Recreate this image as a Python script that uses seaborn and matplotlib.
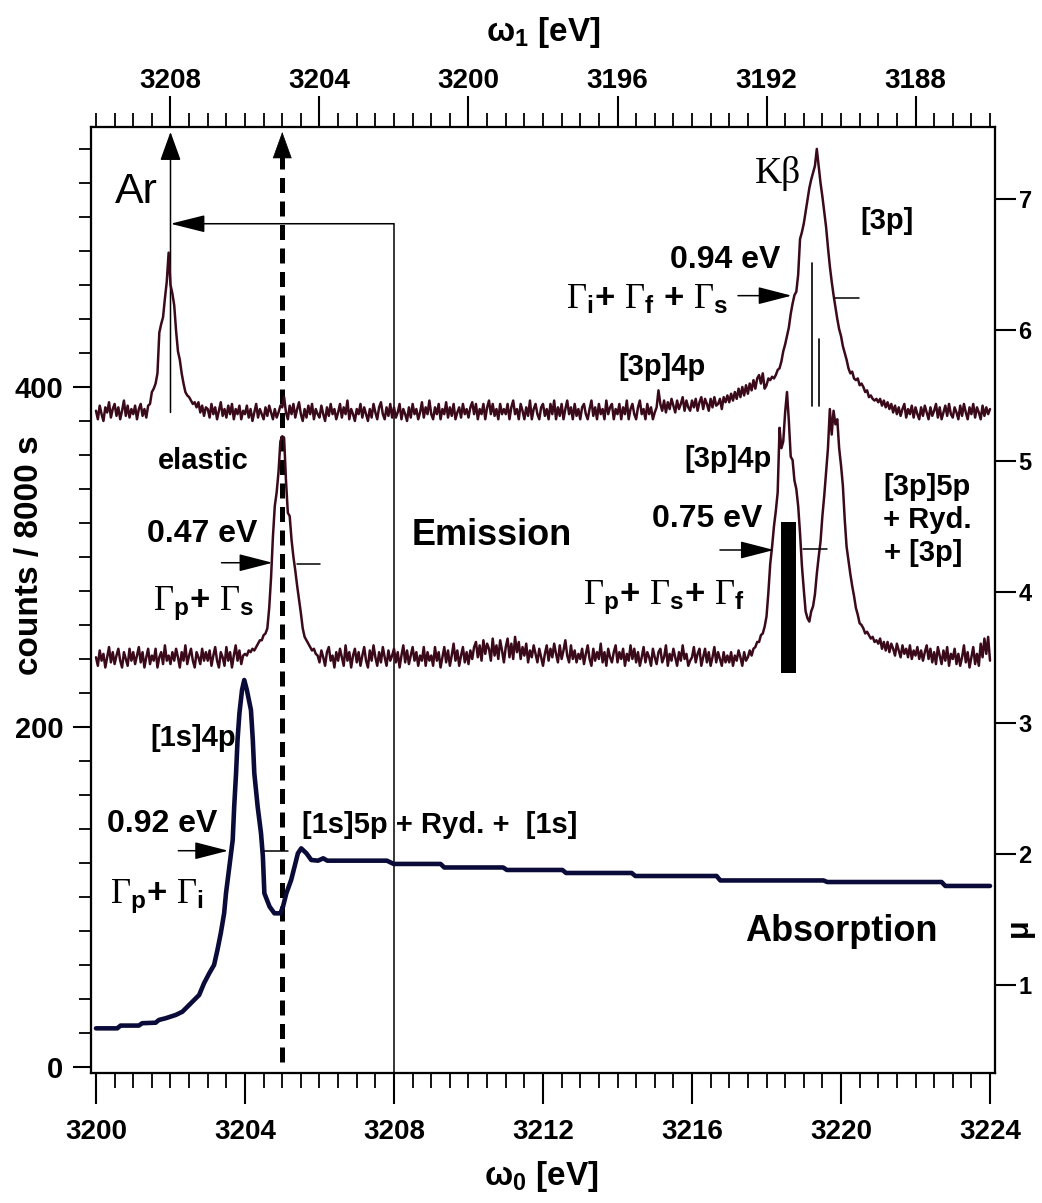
import numpy as np
import pandas as pd
import matplotlib
matplotlib.use("Agg")
import matplotlib.pyplot as plt
import seaborn as sns
from matplotlib.ticker import MultipleLocator, FixedLocator

# ---------------- data ----------------
# emission spectra, sampled on the omega_1 grid (3210.00 eV downwards in 0.05 eV steps)
omega1_start = 3210.0
omega1_step = 0.05

emission_elastic_kbeta = [
    386, 381, 389, 384, 380, 388, 385, 391, 382, 387, 390, 383, 388, 381, 386, 392, 383, 389, 382, 387,
    384, 389, 381, 387, 390, 383, 387, 382, 389, 390, 397, 399, 402, 408, 432, 437, 441, 452, 462, 479,
    460, 455, 448, 433, 421, 416, 408, 402, 397, 395, 394, 392, 390, 391, 388, 391, 385, 389, 383, 388,
    387, 382, 390, 384, 388, 381, 386, 391, 383, 387, 382, 389, 384, 390, 381, 387, 384, 389, 381, 386,
    384, 389, 382, 387, 380, 385, 390, 382, 387, 384, 381, 388, 383, 389, 385, 381, 387, 382, 385, 389,
    388, 394, 385, 381, 389, 384, 390, 382, 387, 391, 384, 380, 387, 382, 389, 384, 390, 381, 387, 384,
    382, 389, 384, 380, 388, 383, 390, 384, 387, 381, 385, 390, 382, 388, 384, 392, 381, 387, 384, 380,
    387, 384, 390, 382, 388, 384, 380, 387, 382, 390, 385, 381, 388, 391, 384, 381, 388, 383, 390, 382,
    388, 382, 385, 390, 381, 387, 384, 380, 388, 382, 390, 384, 387, 381, 385, 391, 382, 388, 384, 392,
    384, 381, 388, 384, 390, 381, 387, 384, 391, 382, 388, 383, 390, 381, 385, 388, 382, 390, 384, 387,
    382, 388, 391, 384, 390, 381, 387, 384, 390, 381, 388, 392, 384, 390, 383, 387, 381, 390, 384, 387,
    384, 390, 381, 388, 392, 384, 387, 381, 390, 386, 381, 388, 383, 392, 381, 387, 390, 384, 381, 388,
    390, 383, 387, 381, 390, 384, 392, 381, 388, 383, 390, 381, 387, 392, 384, 388, 381, 390, 383, 387,
    381, 388, 390, 384, 381, 387, 392, 383, 388, 381, 390, 384, 387, 381, 392, 384, 388, 390, 381, 387,
    384, 390, 381, 388, 384, 392, 381, 387, 390, 384, 381, 388, 392, 384, 387, 381, 390, 384, 388, 381,
    385, 388, 398, 390, 386, 392, 385, 391, 387, 393, 389, 385, 392, 387, 390, 394, 386, 392, 388, 386,
    392, 388, 393, 386, 391, 394, 387, 393, 390, 386, 393, 388, 394, 389, 390, 393, 387, 394, 391, 395,
    391, 396, 392, 397, 393, 399, 394, 400, 395, 401, 396, 402, 398, 404, 399, 405, 407, 402, 408, 399,
    401, 405, 404, 406, 405, 407, 410, 411, 415, 421, 425, 430, 435, 443, 449, 454, 456, 466, 487, 491,
    496, 503, 510, 517, 522, 526, 530, 540, 530, 520, 512, 503, 494, 482, 471, 462, 454, 447, 440, 434,
    430, 424, 420, 416, 411, 408, 409, 405, 404, 405, 401, 402, 400, 397, 398, 394, 395, 393, 392, 393,
    391, 393, 389, 392, 388, 391, 387, 390, 385, 389, 384, 388, 383, 387, 390, 382, 387, 384, 389, 382,
    388, 384, 381, 388, 383, 389, 385, 381, 388, 383, 386, 390, 382, 388, 381, 385, 389, 383, 390, 384,
    382, 388, 385, 381, 389, 383, 390, 385, 381, 388, 384, 390, 382, 388, 385, 381, 389, 383, 388, 384,
    387,
]

emission_resonant = [
    241, 236, 245, 239, 243, 235, 241, 247, 238, 244, 237, 242, 246, 239, 235, 244, 240, 236, 246, 239,
    244, 237, 242, 247, 238, 244, 235, 241, 246, 237, 242, 239, 246, 235, 241, 244, 237, 248, 239, 242,
    237, 244, 239, 246, 241, 235, 244, 239, 248, 237, 242, 246, 239, 235, 244, 241, 237, 246, 239, 244,
    239, 245, 236, 242, 247, 239, 235, 244, 241, 236, 247, 239, 244, 235, 242, 248, 239, 245, 237, 242,
    243, 242, 245, 244, 246, 245, 247, 249, 251, 251, 254, 255, 258, 270, 288, 312, 330, 338, 350, 368,
    371, 370, 345, 326, 324, 310, 300, 292, 283, 275, 267, 258, 253, 251, 249, 247, 245, 246, 243, 242,
    238, 245, 241, 236, 244, 247, 239, 242, 235, 244, 239, 246, 241, 236, 248, 239, 244, 235, 242, 246,
    238, 244, 236, 242, 247, 239, 235, 245, 239, 248, 241, 236, 244, 238, 247, 241, 236, 245, 239, 242,
    246, 238, 244, 235, 242, 248, 238, 245, 237, 242, 247, 239, 244, 236, 242, 239, 247, 236, 244, 239,
    242, 236, 247, 239, 244, 235, 241, 247, 238, 245, 236, 242, 249, 239, 245, 236, 242, 247, 238, 244,
    237, 245, 240, 247, 250, 241, 248, 239, 251, 243, 249, 246, 239, 252, 242, 248, 240, 251, 245, 238,
    247, 252, 241, 249, 240, 253, 244, 250, 240, 247, 242, 249, 238, 245, 241, 248, 243, 238, 246, 241,
    236, 243, 248, 239, 246, 241, 249, 243, 238, 248, 240, 245, 251, 242, 238, 248, 240, 245, 238, 243,
    240, 246, 237, 243, 248, 240, 236, 246, 239, 244, 240, 249, 238, 244, 236, 246, 241, 238, 244, 248,
    238, 244, 240, 246, 236, 243, 239, 248, 240, 246, 238, 244, 236, 241, 247, 238, 244, 241, 236, 246,
    241, 237, 244, 246, 238, 241, 248, 236, 243, 239, 246, 241, 236, 244, 239, 248, 240, 243, 236, 239,
    241, 247, 238, 243, 246, 236, 241, 246, 238, 244, 236, 241, 247, 238, 244, 240, 236, 244, 238, 242,
    238, 244, 236, 242, 239, 245, 241, 236, 244, 239, 241, 245, 242, 246, 247, 250, 250, 254, 255, 259,
    265, 279, 296, 306, 318, 327, 338, 376, 364, 368, 385, 397, 380, 359, 357, 345, 340, 330, 314, 295,
    281, 268, 264, 262, 268, 271, 278, 290, 300, 309, 324, 336, 350, 364, 387, 372, 386, 378, 381, 364,
    354, 342, 322, 306, 298, 290, 283, 277, 270, 266, 261, 260, 258, 255, 256, 254, 252, 253, 250, 251,
    249, 252, 246, 250, 245, 250, 244, 249, 246, 242, 249, 245, 241, 248, 243, 246, 241, 248, 240, 245,
    242, 247, 240, 245, 239, 244, 248, 240, 246, 238, 244, 237, 247, 242, 237, 245, 239, 247, 236, 243,
    240, 246, 237, 243, 236, 241, 248, 238, 244, 235, 241, 247, 237, 243, 236, 249, 241, 252, 243, 253,
    239,
]

# absorption spectrum (omega_0 in eV, mu)
absorption_omega0 = [
    3200.00, 3200.57, 3200.66, 3201.15, 3201.24, 3201.60, 3201.69, 3201.87, 3202.14, 3202.32,
    3202.50, 3202.77, 3202.90, 3203.04, 3203.17, 3203.26, 3203.35, 3203.44, 3203.49, 3203.58,
    3203.67, 3203.71, 3203.76, 3203.80, 3203.85, 3203.92, 3203.98, 3204.05, 3204.16, 3204.21,
    3204.25, 3204.34, 3204.43, 3204.48, 3204.52, 3204.66, 3204.79, 3204.95, 3205.02, 3205.11,
    3205.24, 3205.33, 3205.42, 3205.51, 3205.65, 3205.78, 3205.96, 3206.10, 3206.21, 3207.81,
    3207.99, 3209.25, 3209.35, 3210.93, 3211.03, 3212.52, 3212.62, 3214.38, 3214.48, 3216.66,
    3216.76, 3219.53, 3219.63, 3222.70, 3222.80, 3224.00,
]
absorption_mu = [
    0.669, 0.669, 0.690, 0.690, 0.708, 0.712, 0.733, 0.746, 0.771, 0.796,
    0.847, 0.924, 1.013, 1.089, 1.153, 1.267, 1.395, 1.547, 1.700, 1.903,
    2.107, 2.361, 2.616, 2.870, 3.074, 3.252, 3.328, 3.252, 3.099, 2.870,
    2.616, 2.361, 2.158, 1.980, 1.700, 1.598, 1.547, 1.547, 1.598, 1.700,
    1.802, 1.903, 2.005, 2.043, 2.005, 1.954, 1.949, 1.967, 1.949, 1.949,
    1.924, 1.924, 1.897, 1.897, 1.878, 1.878, 1.855, 1.855, 1.832, 1.832,
    1.798, 1.798, 1.786, 1.786, 1.756, 1.756,
]

bottom_ticks = [3200, 3204, 3208, 3212, 3216, 3220, 3224]
top_ticks = [3208, 3204, 3200, 3196, 3192, 3188]
left_ticks = [0, 200, 400]
right_ticks = [1, 2, 3, 4, 5, 6, 7]

# ---------------- style ----------------
sns.set_theme(style="ticks")
plt.rcParams["font.family"] = ["Liberation Sans", "DejaVu Sans"]
plt.rcParams["mathtext.fontset"] = "custom"
plt.rcParams["mathtext.rm"] = "Liberation Serif"
plt.rcParams["mathtext.bf"] = "Liberation Sans:bold"
plt.rcParams["mathtext.sf"] = "Liberation Sans"
plt.rcParams["mathtext.it"] = "Liberation Sans:italic"
plt.rcParams["mathtext.default"] = "regular"

EM_COLOR = "#3a0a1a"
ABS_COLOR = "#0b0b3a"

W, H = 1042, 1203
fig = plt.figure(figsize=(W / 100, H / 100), dpi=100)
L, R, T, B = 91, 995, 127, 1073
ax = fig.add_axes([L / W, 1 - B / H, (R - L) / W, (B - T) / H])
ax_mu = ax.twinx()
ax_top = ax.twiny()

n1 = len(emission_elastic_kbeta)
n2 = len(emission_resonant)
df_e1 = pd.DataFrame({"omega1": omega1_start - omega1_step * np.arange(n1),
                      "counts": emission_elastic_kbeta})
df_e2 = pd.DataFrame({"omega1": omega1_start - omega1_step * np.arange(n2),
                      "counts": emission_resonant})
df_abs = pd.DataFrame({"omega0": absorption_omega0, "mu": absorption_mu})

sns.lineplot(data=df_e1, x="omega1", y="counts", ax=ax_top, color=EM_COLOR,
             linewidth=1.8, estimator=None, sort=False)
sns.lineplot(data=df_e2, x="omega1", y="counts", ax=ax_top, color=EM_COLOR,
             linewidth=1.8, estimator=None, sort=False)
sns.lineplot(data=df_abs, x="omega0", y="mu", ax=ax_mu, color=ABS_COLOR,
             linewidth=3.3, estimator=None, sort=False)

# limits (pixel calibration of the original figure)
ax.set_xlim(3199.866, 3224.134)
ax_top.set_xlim(3210.134, 3185.866)
ax.set_ylim(-3.53, 552.9)
ax_mu.set_ylim(0.328, 7.55)

for a in (ax, ax_mu, ax_top):
    a.set_xlabel("")
    a.set_ylabel("")
    for s in a.spines.values():
        s.set_linewidth(1.5)
        s.set_color("black")

# bottom axis
ax.xaxis.set_major_locator(FixedLocator(bottom_ticks))
ax.xaxis.set_minor_locator(MultipleLocator(0.5))
ax.set_xticks(bottom_ticks)
ax.set_xticklabels([str(t) for t in bottom_ticks], fontsize=20, fontweight="bold")
ax.tick_params(axis="x", which="major", direction="out", length=22, width=1.5, pad=11,
               top=False, bottom=True, colors="black")
ax.tick_params(axis="x", which="minor", direction="out", length=11, width=1.3,
               top=False, bottom=True, colors="black")
# left axis
ax.set_yticks(left_ticks)
ax.set_yticklabels([str(t) for t in left_ticks], fontsize=21, fontweight="bold")
ax.yaxis.set_minor_locator(MultipleLocator(20))
ax.tick_params(axis="y", which="major", direction="out", length=13, width=1.5, pad=7,
               right=False, left=True, colors="black")
ax.tick_params(axis="y", which="minor", direction="out", length=9, width=1.3,
               right=False, left=True, colors="black")
# top axis
ax_top.set_xticks(top_ticks)
ax_top.set_xticklabels([str(t) for t in top_ticks], fontsize=20, fontweight="bold")
ax_top.xaxis.set_minor_locator(MultipleLocator(0.5))
ax_top.tick_params(axis="x", which="major", direction="out", length=22, width=1.5, pad=2,
                   top=True, bottom=False, labeltop=True, labelbottom=False, colors="black")
ax_top.tick_params(axis="x", which="minor", direction="out", length=10, width=1.3,
                   top=True, bottom=False, colors="black")
ax_top.tick_params(axis="y", left=False, right=False, labelleft=False, labelright=False)
# right axis
ax_mu.set_yticks(right_ticks)
ax_mu.set_yticklabels([str(t) for t in right_ticks], fontsize=17, fontweight="bold")
ax_mu.yaxis.set_minor_locator(FixedLocator([]))
ax_mu.tick_params(axis="y", which="major", direction="out", length=15, width=1.5, pad=2,
                  right=True, left=False, colors="black")
ax_mu.tick_params(axis="x", bottom=False, top=False, labelbottom=False)


def arrow(a, start, end, hl, hw, lw=1.1):
    a.annotate("", xy=end, xytext=start, xycoords="data", textcoords="data",
               arrowprops=dict(arrowstyle=f"-|>,head_length={hl},head_width={hw}",
                               lw=lw, color="black", shrinkA=0, shrinkB=0,
                               mutation_scale=10))


# calibration arrows (omega_0 / counts)
arrow(ax, (3202.0, 385.0), (3202.0, 550.0), 1.8, 0.65)
arrow(ax, (3208.0, 496.0), (3202.0, 496.0), 2.16, 0.54)
ax.plot([3208.0, 3208.0], [496.0, -3.53], color="black", lw=1.1)
ax.plot([3205.0, 3205.0], [3.0, 536.0], color="black", lw=3.6,
        linestyle=(0, (3.0, 1.7)), solid_capstyle="butt")
arrow(ax, (3205.0, 538.0), (3205.0, 550.0), 1.8, 0.65, lw=0.5)

# FWHM markers on emission spectra (omega_1 / counts)
arrow(ax_top, (3192.765, 453.7), (3191.324, 453.7), 2.1, 0.54)
ax_top.plot([3190.16, 3189.52], [452.4, 452.4], color="black", lw=1.1)
ax_top.plot([3190.79, 3190.79], [388.8, 473.0], color="black", lw=1.2)
ax_top.plot([3190.59, 3190.59], [388.8, 428.2], color="black", lw=1.2)

arrow(ax_top, (3206.63, 296.6), (3205.26, 296.6), 2.1, 0.54)
ax_top.plot([3204.61, 3203.99], [295.7, 295.7], color="black", lw=1.1)

arrow(ax_top, (3193.25, 304.1), (3191.80, 304.1), 2.1, 0.54)
ax_top.plot([3191.01, 3190.38], [304.5, 304.5], color="black", lw=1.1)
ax_top.fill_between([3191.61, 3191.22], [231.6, 231.6], [320.4, 320.4], color="black", lw=0)

# FWHM marker on absorption (omega_0 / mu)
arrow(ax_mu, (3202.21, 2.025), (3203.55, 2.025), 2.1, 0.54)
ax_mu.plot([3204.51, 3205.16], [2.025, 2.025], color="black", lw=1.1)


def ptext(x, y, s, **kw):
    kw.setdefault("va", "baseline")
    kw.setdefault("ha", "left")
    fig.text(x / W, 1 - y / H, s, color="black", **kw)


G = r"\mathrm{\Gamma}"
ptext(115, 203, "Ar", fontsize=31)
ptext(755, 183, "Kβ", fontsize=27, family=["Liberation Serif", "DejaVu Serif"])
ptext(860, 229, "[3p]", fontsize=21, fontweight="bold")
ptext(670, 268, "0.94 eV", fontsize=23, fontweight="bold")
ptext(566, 308, rf"${G}_{{\mathbf{{i}}}}$+ ${G}_{{\mathbf{{f}}}}$ + ${G}_{{\mathbf{{s}}}}$",
      fontsize=25, fontweight="bold")
ptext(618, 375, "[3p]4p", fontsize=21, fontweight="bold")
ptext(158, 469, "elastic", fontsize=21, fontweight="bold")
ptext(147, 542, "0.47 eV", fontsize=23, fontweight="bold")
ptext(153, 610, rf"${G}_{{\mathbf{{p}}}}$+ ${G}_{{\mathbf{{s}}}}$", fontsize=25, fontweight="bold")
ptext(412, 545, "Emission", fontsize=26, fontweight="bold")
ptext(684, 467, "[3p]4p", fontsize=21, fontweight="bold")
ptext(652, 527, "0.75 eV", fontsize=23, fontweight="bold")
ptext(583, 604, rf"${G}_{{\mathbf{{p}}}}$+ ${G}_{{\mathbf{{s}}}}$+ ${G}_{{\mathbf{{f}}}}$",
      fontsize=25, fontweight="bold")
ptext(927, 495, "[3p]5p", fontsize=21, fontweight="bold", ha="center")
ptext(927, 528, "+ Ryd.", fontsize=21, fontweight="bold", ha="center")
ptext(923, 561, "+ [3p]", fontsize=21, fontweight="bold", ha="center")
ptext(150, 746, "[1s]4p", fontsize=21, fontweight="bold")
ptext(107, 832, "0.92 eV", fontsize=23, fontweight="bold")
ptext(110, 903, rf"${G}_{{\mathbf{{p}}}}$+ ${G}_{{\mathbf{{i}}}}$", fontsize=25, fontweight="bold")
ptext(302, 833, "[1s]5p + Ryd. +  [1s]", fontsize=21, fontweight="bold")
ptext(745, 941, "Absorption", fontsize=26, fontweight="bold")

# axis titles
ptext(543, 32, r"$\omega_1$ [eV]", fontsize=24, fontweight="bold", ha="center", va="center")
ptext(541, 1177, r"$\omega_0$ [eV]", fontsize=24, fontweight="bold", ha="center", va="center")
ptext(30, 555, "counts / 8000 s", fontsize=24, fontweight="bold", rotation=90,
      ha="center", va="center")
ptext(1019, 928, "μ", fontsize=22, fontweight="bold", rotation=90, ha="center", va="center")

fig.savefig("out.png", dpi=100)
